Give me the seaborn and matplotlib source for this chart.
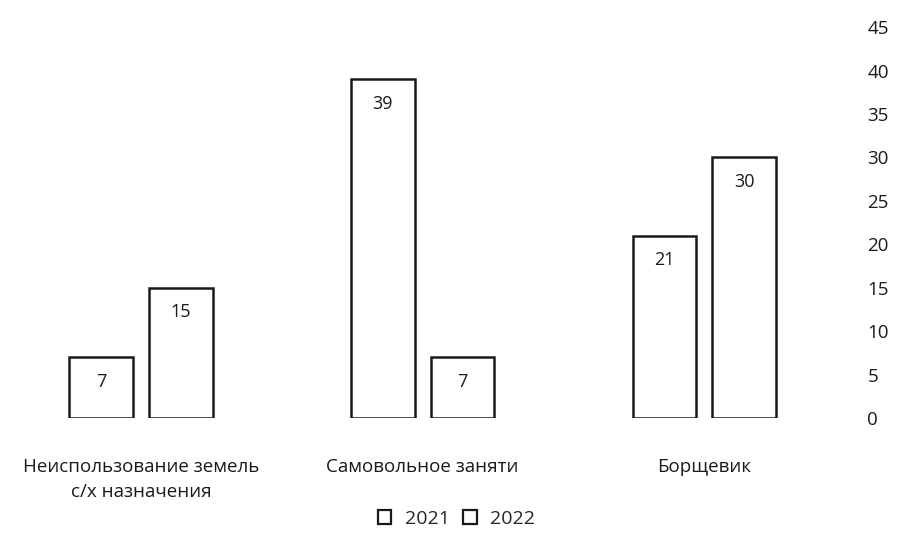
import pandas as pd
import matplotlib
matplotlib.use("Agg")
import matplotlib.pyplot as plt
import seaborn as sns

# данные с диаграммы
categories = ["Неиспользование земель\nс/х назначения", "Самовольное заняти", "Борщевик"]
years = ["2021", "2022"]
values_2021 = [7, 39, 21]
values_2022 = [15, 7, 30]
y_ticks = [0, 5, 10, 15, 20, 25, 30, 35, 40, 45]

df = pd.DataFrame({
    "category": categories * 2,
    "year": [years[0]] * 3 + [years[1]] * 3,
    "value": values_2021 + values_2022,
})

sns.set_style("white")
plt.rcParams["font.family"] = ["Open Sans", "DejaVu Sans"]

fig = plt.figure(figsize=(9.04, 5.43), dpi=100)
ax = fig.add_axes([0.0, 0.23, 0.935, 0.72])

sns.barplot(data=df, x="category", y="value", hue="year", order=categories,
            hue_order=years, palette=["white", "white"], edgecolor="#1a1a1a",
            linewidth=1.8, width=0.566, gap=0.2, ax=ax, legend=False)

for cont in ax.containers:
    ax.bar_label(cont, fmt="%d", padding=-24, fontsize=13, color="#1a1a1a")

ax.set_ylim(0, 45)
ax.set_xlim(-0.5, 2.5)
ax.set_yticks(y_ticks)
ax.yaxis.tick_right()
ax.tick_params(axis="y", length=0, pad=16, labelsize=13.5, colors="#1a1a1a")
ax.tick_params(axis="x", length=0, pad=29, labelsize=13.5, colors="#1a1a1a")
for lbl in ax.get_xticklabels():
    lbl.set_linespacing(1.5)
ax.set_xlabel("")
ax.set_ylabel("")
for s in ax.spines.values():
    s.set_visible(False)

# легенда снизу
handles = [plt.Rectangle((0, 0), 1, 1, facecolor="white", edgecolor="#1a1a1a", linewidth=1.6)
           for _ in years]
fig.legend(handles, years, loc="center", bbox_to_anchor=(0.505, 0.045), ncol=2,
           frameon=False, fontsize=14, handlelength=0.7, handleheight=0.7,
           handletextpad=0.7, columnspacing=0.7)

fig.savefig("out.png", dpi=100)
